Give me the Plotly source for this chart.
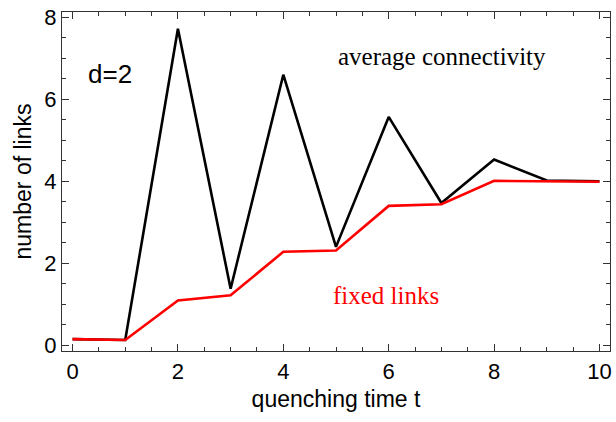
import plotly.graph_objects as go

t = [0, 1, 2, 3, 4, 5, 6, 7, 8, 9, 10]
avg_connectivity = [0.15, 0.13, 7.72, 1.38, 6.60, 2.40, 5.57, 3.47, 4.53, 4.02, 4.00]
fixed_links = [0.15, 0.13, 1.09, 1.22, 2.28, 2.31, 3.40, 3.44, 4.01, 4.00, 3.99]
x_ticks = [0, 2, 4, 6, 8, 10]
y_ticks = [0, 2, 4, 6, 8]

fig = go.Figure()
fig.add_trace(go.Scatter(x=t, y=avg_connectivity, mode="lines",
                         line=dict(color="black", width=2.6), showlegend=False))
fig.add_trace(go.Scatter(x=t, y=fixed_links, mode="lines",
                         line=dict(color="#ff0000", width=2.6), showlegend=False))

axis_common = dict(
    showgrid=False, zeroline=False, showline=True, linecolor="#333", linewidth=1.3,
    mirror="allticks", ticks="inside", ticklen=7, tickwidth=1.3, tickcolor="#333",
    tickfont=dict(family="Liberation Sans, Arial", size=22, color="black"),
)

fig.update_xaxes(range=[-0.2, 10.2], tickvals=x_ticks,
                 minor=dict(dtick=0.5, ticks="inside", ticklen=4, tickcolor="#333", tickwidth=1),
                 title=dict(text="quenching time t", font=dict(family="Liberation Sans, Arial", size=23, color="black"), standoff=8),
                 **axis_common)
fig.update_yaxes(range=[-0.14, 8.13], tickvals=y_ticks,
                 minor=dict(dtick=0.5, ticks="inside", ticklen=4, tickcolor="#333", tickwidth=1),
                 title=dict(text="number of links", font=dict(family="Liberation Sans, Arial", size=23, color="black"), standoff=6),
                 **axis_common)

fig.add_annotation(x=0.72, y=6.61, xref="x", yref="y", text="d=2", showarrow=False,
                   font=dict(family="Liberation Sans, Arial", size=26, color="black"))
fig.add_annotation(x=7.01, y=7.05, xref="x", yref="y", text="average connectivity", showarrow=False,
                   font=dict(family="Liberation Serif, Times New Roman", size=25, color="black"))
fig.add_annotation(x=5.95, y=1.22, xref="x", yref="y", text="fixed links", showarrow=False,
                   font=dict(family="Liberation Serif, Times New Roman", size=25, color="#ff0000"))

fig.update_layout(width=616, height=422, margin=dict(l=62, r=4, t=12, b=71),
                  plot_bgcolor="white", paper_bgcolor="white")

fig.write_html("out.html", config={"displayModeBar": False},
               post_script="document.body.style.margin='0';document.body.style.overflow='hidden';")
